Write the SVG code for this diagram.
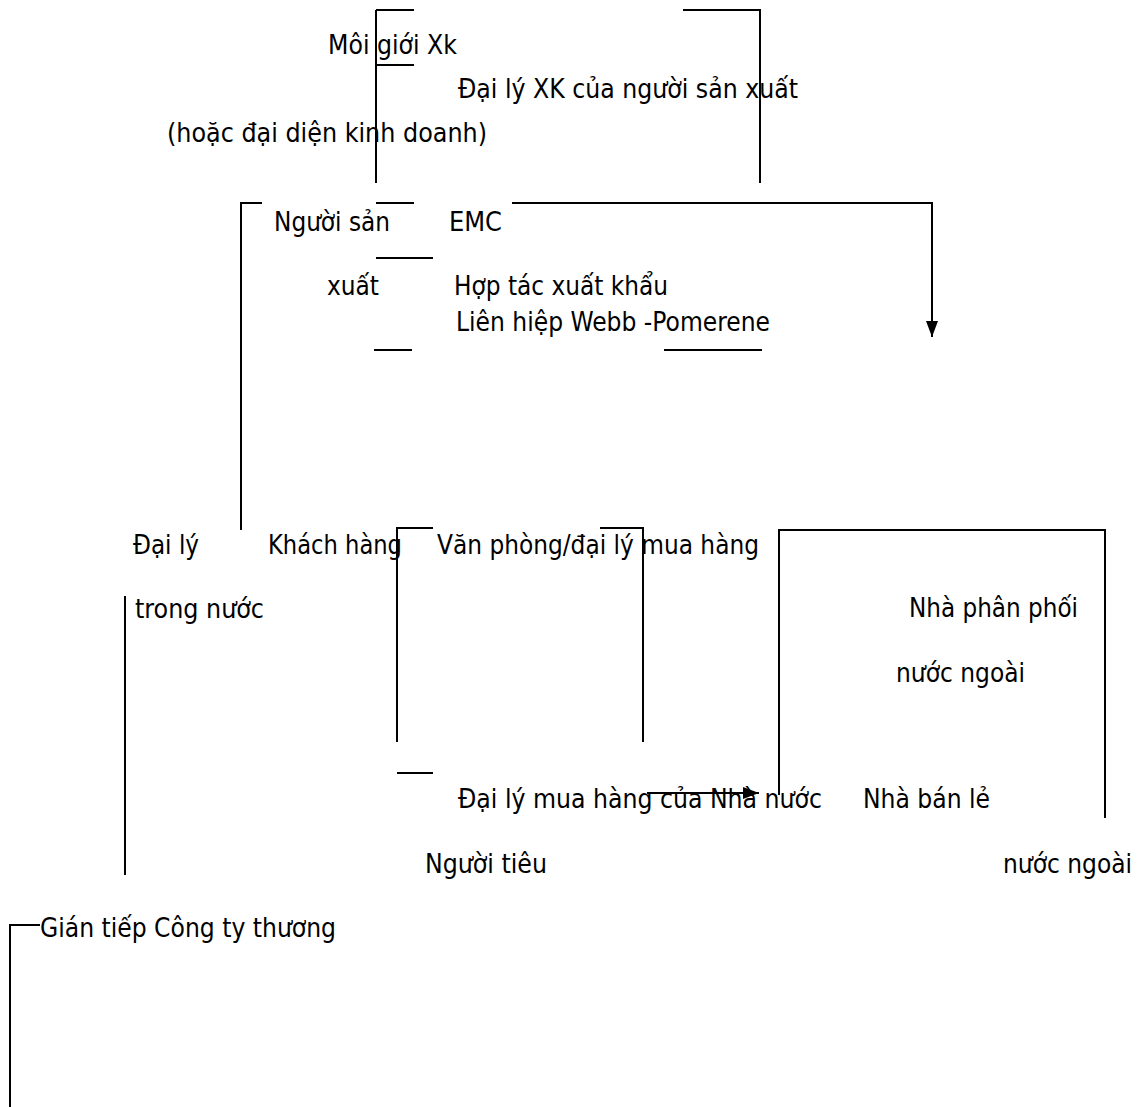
<svg xmlns="http://www.w3.org/2000/svg" width="1137" height="1107" viewBox="0 0 1137 1107">
<defs>
<style>
text{font-family:"DejaVu Sans Condensed","DejaVu Sans",sans-serif;font-stretch:condensed;font-size:26px;fill:#000}
.ln{fill:none;stroke:#000;stroke-width:2}
</style>
<marker id="arr" markerUnits="userSpaceOnUse" markerWidth="16" markerHeight="12" refX="16" refY="6" orient="auto">
<path d="M0,0 L16,6 L0,12 z" fill="#000"/>
</marker>
</defs>
<rect width="1137" height="1107" fill="#fff"/>
<g id="connectors">
<path class="ln" d="M376,10 V183"/>
<path class="ln" d="M376,10 H414"/>
<path class="ln" d="M376,65 H414"/>
<path class="ln" d="M683,10 H760 V183"/>
<path class="ln" d="M262,203 H241 V530"/>
<path class="ln" d="M376,203 H414"/>
<path class="ln" d="M376,258 H433"/>
<path class="ln" d="M512,203 H932 V337" marker-end="url(#arr)"/>
<path class="ln" d="M374,350 H412"/>
<path class="ln" d="M664,350 H762"/>
<path class="ln" d="M125,596 V875"/>
<path class="ln" d="M433,528 H397 V742"/>
<path class="ln" d="M600,528 H643 V742"/>
<path class="ln" d="M397,773 H433"/>
<path class="ln" d="M779,795 V530 H1105 V818"/>
<path class="ln" d="M647,793 H759" marker-end="url(#arr)"/>
<path class="ln" d="M40,925 H10 V1107"/>
</g>
<g id="moi-gioi"><text x="328" y="54" textLength="129" lengthAdjust="spacingAndGlyphs">Môi giới Xk</text></g>
<g id="dai-ly-xk"><text x="458" y="98" textLength="340" lengthAdjust="spacingAndGlyphs">Đại lý XK của người sản xuất</text></g>
<g id="dai-dien"><text x="167" y="142" textLength="320" lengthAdjust="spacingAndGlyphs">(hoặc đại diện kinh doanh)</text></g>
<g id="nguoi-san-xuat"><text x="274" y="231" textLength="116" lengthAdjust="spacingAndGlyphs">Người sản</text><text x="327" y="295" textLength="52" lengthAdjust="spacingAndGlyphs">xuất</text></g>
<g id="emc"><text x="449" y="231" textLength="53" lengthAdjust="spacingAndGlyphs">EMC</text></g>
<g id="hop-tac"><text x="454" y="295" textLength="214" lengthAdjust="spacingAndGlyphs">Hợp tác xuất khẩu</text></g>
<g id="lien-hiep"><text x="456" y="331" textLength="314" lengthAdjust="spacingAndGlyphs">Liên hiệp Webb -Pomerene</text></g>
<g id="dai-ly-trong-nuoc"><text x="133" y="554" textLength="66" lengthAdjust="spacingAndGlyphs">Đại lý</text><text x="135" y="618" textLength="129" lengthAdjust="spacingAndGlyphs">trong nước</text></g>
<g id="khach-hang"><text x="268" y="554" textLength="134" lengthAdjust="spacingAndGlyphs">Khách hàng</text></g>
<g id="van-phong"><text x="437" y="554" textLength="322" lengthAdjust="spacingAndGlyphs">Văn phòng/đại lý mua hàng</text></g>
<g id="nha-phan-phoi"><text x="909" y="617" textLength="169" lengthAdjust="spacingAndGlyphs">Nhà phân phối</text><text x="896" y="682" textLength="129" lengthAdjust="spacingAndGlyphs">nước ngoài</text></g>
<g id="dai-ly-nha-nuoc"><text x="458" y="808" textLength="364" lengthAdjust="spacingAndGlyphs">Đại lý mua hàng của Nhà nước</text></g>
<g id="nha-ban-le"><text x="863" y="808" textLength="127" lengthAdjust="spacingAndGlyphs">Nhà bán lẻ</text><text x="1003" y="873" textLength="129" lengthAdjust="spacingAndGlyphs">nước ngoài</text></g>
<g id="nguoi-tieu"><text x="425" y="873" textLength="122" lengthAdjust="spacingAndGlyphs">Người tiêu</text></g>
<g id="gian-tiep"><text x="40" y="937" textLength="296" lengthAdjust="spacingAndGlyphs">Gián tiếp Công ty thương</text></g>
</svg>
